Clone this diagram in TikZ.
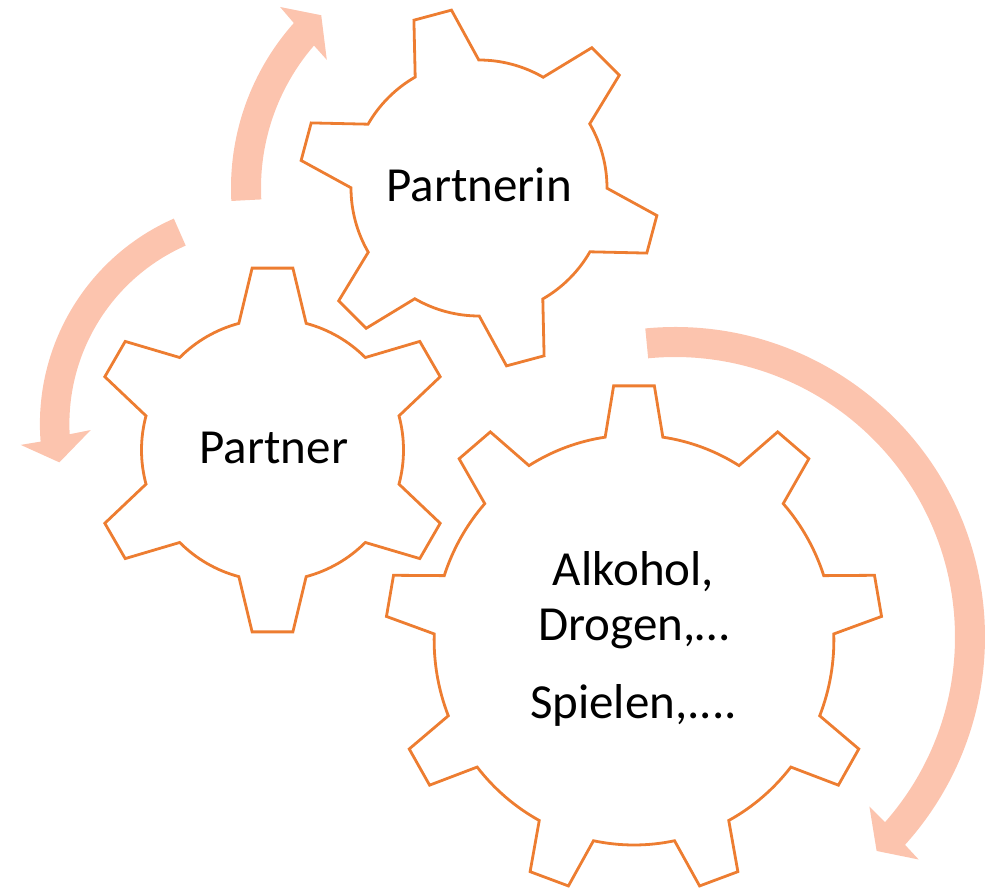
\documentclass[tikz,border=0pt]{standalone}
\usepackage{fontspec}
\setmainfont{Carlito}
\usetikzlibrary{positioning}

\begin{document}
\begin{tikzpicture}[x=1pt,y=1pt,gear/.style={draw={rgb,255:red,237;green,125;blue,49}, line width=2.8pt, line join=miter},
  turn/.style={fill={rgb,255:red,252;green,196;blue,174}, draw=none},
  lbl/.style={font=\fontsize{49pt}{55pt}\selectfont, inner sep=0pt, anchor=base}]
    \useasboundingbox (0,0) rectangle (988,-890);
    \coordinate (cPartnerin) at (479,-188);
    \coordinate (cPartner) at (272.5,-450);
    \coordinate (cSucht) at (634,-640);
    % arrows
    \fill[turn, shift={(479pt,-188pt)}] (183:248pt) arc[start angle=183, end angle=138.3, radius=248pt]
        -- (137.7:269pt) -- (132.4:234pt) -- (139.9:199pt) -- (139.2:218pt)
        arc[start angle=139.2, end angle=183, radius=218pt] -- cycle;
    \fill[turn, shift={(264.4pt,-424pt)}] (113.8:224.5pt) arc[start angle=113.8, end angle=184.5, radius=224.5pt]
        -- (184.9:244.6pt) -- (190.6:208.6pt) -- (182:173.8pt) -- (183:195pt)
        arc[start angle=183, end angle=113.8, radius=195pt] -- cycle;
    \fill[turn, shift={(675pt,-637pt)}] (95.5:310pt) arc[start angle=95.5, end angle=-42.1, radius=310pt]
        -- (-42.4:330pt) -- (-46.7:294pt) -- (-41.1:258pt) -- (-41.4:280pt)
        arc[start angle=-41.4, end angle=95.5, radius=280pt] -- cycle;
    % gears
    \draw[gear, shift={(479pt,-188pt)}] ({45-14.9}:128pt) \foreach \a in {45,105,...,345} {
        -- ({\a-14.9}:128pt) -- ({\a-6.2}:180pt) -- ({\a+6.2}:180pt) -- ({\a+14.9}:128pt)
        arc[start angle=\a+14.9, end angle=\a+60-14.9, radius=128pt]} -- cycle;
    \draw[gear, shift={(272.5pt,-450pt)}] ({30-14.9}:131pt) \foreach \a in {30,90,...,330} {
        -- ({\a-14.9}:131pt) -- ({\a-6.4}:183pt) -- ({\a+6.4}:183pt) -- ({\a+14.9}:131pt)
        arc[start angle=\a+14.9, end angle=\a+60-14.9, radius=131pt]} -- cycle;
    \draw[gear, shift={(634pt,-640pt)}, xscale=0.975] ({90-8.3}:205pt) \foreach \a in {90,130,...,410} {
        -- ({\a-8.3}:205pt) -- ({\a-4.7}:255pt) -- ({\a+4.7}:255pt) -- ({\a+8.3}:205pt)
        arc[start angle=\a+8.3, end angle=\a+40-8.3, radius=205pt]} -- cycle;
    % labels
    \node[lbl] (partnerin) at (479,-201.7) {Partnerin};
    \node[lbl] (partner) at (273.8,-463.3) {Partner};
    \node[lbl] (alkohol) at (633.5,-585) {Alkohol,};
    \node[lbl] (drogen) at (633.8,-640.7) {Drogen,…};
    \node[lbl] (spielen) at (633.5,-718.3) {Spielen,....};
\end{tikzpicture}
\end{document}
